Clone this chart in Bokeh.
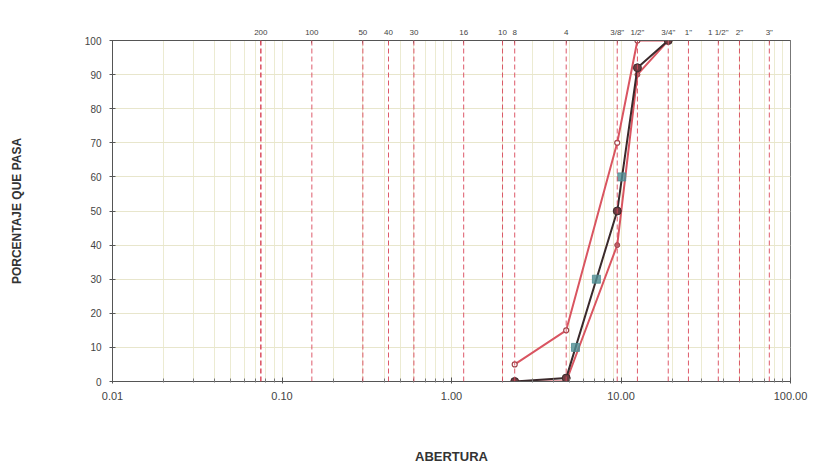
from bokeh.plotting import figure
from bokeh.models import FixedTicker, LogAxis, Span, Range1d
from bokeh.embed import file_html
from bokeh.resources import INLINE

# Sieve openings (mm) and labels (top axis)
sieve_mm = [0.075, 0.15, 0.30, 0.425, 0.60, 1.18, 2.00, 2.36, 4.75, 9.50, 12.50, 19.00, 25.00, 37.50, 50.00, 75.00]
sieve_lbl = ["200", "100", "50", "40", "30", "16", "10", "8", "4", '3/8"', '1/2"', '3/4"', '1"', '1 1/2"', '2"', '3"']

# Grading curves
open_mm = [2.36, 4.75, 9.50, 12.50, 19.00]
upper_pct = [5, 15, 70, 100, 100]
lower_pct = [0, 0, 40, 90, 100]
sample_pct = [0, 1, 50, 92, 100]

# Characteristic diameters D10, D30, D60
d_mm = [5.39, 7.16, 10.1]
d_pct = [10, 30, 60]

x_ticks = [0.01, 0.1, 1, 10, 100]
x_tick_lbl = ["0.01", "0.10", "1.00", "10.00", "100.00"]
y_ticks = list(range(0, 101, 10))

FONT = "Liberation Sans"

p = figure(width=813, height=466, x_axis_type="log", x_range=Range1d(0.01, 100), y_range=Range1d(0, 100),
           output_backend="svg", toolbar_location=None,
           min_border_left=112, min_border_right=23, min_border_top=40, min_border_bottom=85)
p.background_fill_color = "white"
p.border_fill_color = "white"
p.outline_line_color = "#777777"

minor = []
for dec in [0.01, 0.1, 1, 10]:
    for k in range(2, 10):
        minor.append(dec * k)

p.xaxis.ticker = FixedTicker(ticks=x_ticks, minor_ticks=minor)
p.xaxis.major_label_overrides = {t: l for t, l in zip(x_ticks, x_tick_lbl)}
p.xaxis.major_label_text_font = FONT
p.xaxis.major_label_text_font_size = "11px"
p.xaxis.major_label_text_color = "#444444"
p.xaxis.axis_label = "ABERTURA"
p.xaxis.axis_label_text_font = FONT
p.xaxis.axis_label_text_font_style = "bold"
p.xaxis.axis_label_text_font_size = "13px"
p.xaxis.axis_label_text_color = "#333333"
p.xaxis.axis_label_standoff = 46
p.xaxis.axis_line_color = "#555555"
p.xaxis.major_tick_line_color = "#555555"
p.xaxis.minor_tick_line_color = "#777777"
p.xaxis.major_tick_in = 4
p.xaxis.major_tick_out = 2
p.xaxis.minor_tick_in = 3
p.xaxis.minor_tick_out = 1
p.xaxis.major_label_standoff = 8

p.yaxis.ticker = FixedTicker(ticks=y_ticks)
p.yaxis.major_label_text_font = FONT
p.yaxis.major_label_text_font_size = "10px"
p.yaxis.major_label_text_color = "#444444"
p.yaxis.axis_label = "PORCENTAJE QUE PASA"
p.yaxis.axis_label_text_font = FONT
p.yaxis.axis_label_text_font_style = "bold"
p.yaxis.axis_label_text_font_size = "12px"
p.yaxis.axis_label_text_color = "#333333"
p.yaxis.axis_label_standoff = 58
p.yaxis.axis_line_color = "#555555"
p.yaxis.major_tick_line_color = "#555555"
p.yaxis.minor_tick_line_color = None
p.yaxis.major_tick_in = 3
p.yaxis.major_tick_out = 3
p.yaxis.major_label_standoff = 8

p.xgrid.ticker = FixedTicker(ticks=minor + x_ticks)
p.xgrid.grid_line_color = "#ecebd2"
p.ygrid.ticker = FixedTicker(ticks=y_ticks)
p.ygrid.grid_line_color = "#e8e6cc"

top = LogAxis(ticker=FixedTicker(ticks=sieve_mm))
top.major_label_overrides = {t: l for t, l in zip(sieve_mm, sieve_lbl)}
top.major_label_text_font = FONT
top.major_label_text_font_size = "8px"
top.major_label_text_color = "#444444"
top.axis_line_color = "#555555"
top.major_tick_line_color = "#777777"
top.major_tick_in = 3
top.major_tick_out = 0
top.minor_tick_line_color = None
top.major_label_standoff = 4
p.add_layout(top, "above")

for s in sieve_mm:
    p.add_layout(Span(location=s, dimension="height", line_color="#d9485a", line_dash="5 3",
                      line_width=1.6 if s == 0.075 else 1.0, line_alpha=0.9))

red = "#d95561"
p.line(open_mm, upper_pct, line_color=red, line_width=2)
p.scatter(open_mm, upper_pct, size=5, fill_color="white", line_color="#a0454b", line_width=1.2)
p.line(open_mm, lower_pct, line_color=red, line_width=2)
p.scatter(open_mm, lower_pct, size=5, fill_color="#b8666b", line_color="#a0454b")
p.line(open_mm, sample_pct, line_color="#3b2a2c", line_width=2)
p.scatter(open_mm, sample_pct, size=8, fill_color="#6e3b40", line_color="#3b2a2c")
p.scatter(d_mm, d_pct, size=8, marker="square", fill_color="#4f8d94", line_color="#4f8d94", alpha=0.8)

open("out.html", "w").write(file_html(p, INLINE))
